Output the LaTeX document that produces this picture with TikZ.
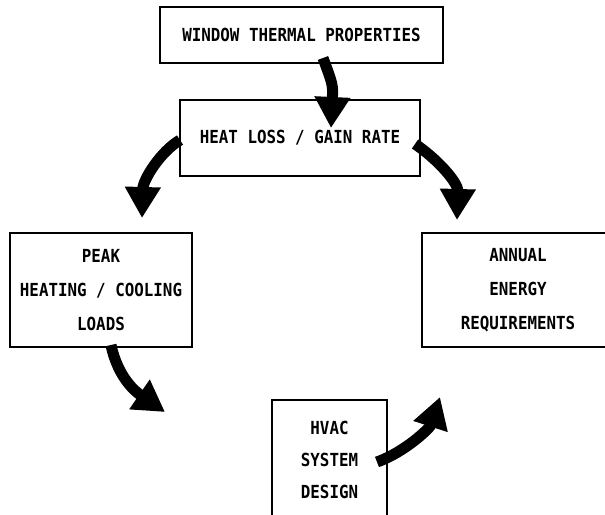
\documentclass[tikz,border=0pt]{standalone}
\usepackage{fontspec}
\setmonofont[FakeStretch=0.88]{DejaVu Sans Mono}
\usetikzlibrary{arrows.meta,calc}
\tikzset{
    caja/.style={draw,line width=2pt,align=center,inner sep=0pt,
        font=\ttfamily\bfseries\fontsize{18}{34}\selectfont},
    flecha/.style={line width=11pt,-{Triangle[width=34pt,length=31pt]}}
}
\begin{document}
\begin{tikzpicture}[x=1pt,y=-1pt]
    \useasboundingbox (0,0) rectangle (605,514);

    %Cajas
    \node[caja,minimum width=283pt,minimum height=56pt] (wtp) at (301.5,35) {WINDOW THERMAL PROPERTIES};
    \node[caja,minimum width=240pt,minimum height=76pt] (hlg) at (300,138) {HEAT LOSS / GAIN RATE};
    \node[caja,minimum width=182pt,minimum height=114pt] (peak) at (101,290) {PEAK\\HEATING / COOLING\\LOADS};
    \node[caja,minimum width=192pt,minimum height=114pt] (annual) at (518,290) {ANNUAL\\ENERGY\\REQUIREMENTS};
    \node[caja,minimum width=115pt,minimum height=120pt,
        font=\ttfamily\bfseries\fontsize{18}{32}\selectfont] (hvac) at (329.5,460) {HVAC\\SYSTEM\\DESIGN};

    %Puntas
    \coordinate (p1) at (331,128);
    \coordinate (p2) at (142,218);
    \coordinate (p3) at (457,220);
    \coordinate (p4) at (165,412);
    \coordinate (p5) at (440,397);

    %Flechas
    \draw[flecha] ($(wtp.south)+(21.5,-6)$) .. controls (333,85) .. (p1);
    \draw[flecha] ($(hlg.west)+(1,2)$) .. controls (160,152) and (143,180) .. (p2);
    \draw[flecha] ($(hlg.east)+(-6,6)$) .. controls (436,158) and (458,182) .. (p3);
    \draw[flecha] ($(peak.south)+(10,-3)$) .. controls (118,378) and (136,392) .. (p4);
    \draw[flecha] ($(hvac.east)+(-11,2)$) .. controls (405,452) and (430,428) .. (p5);
\end{tikzpicture}
\end{document}
